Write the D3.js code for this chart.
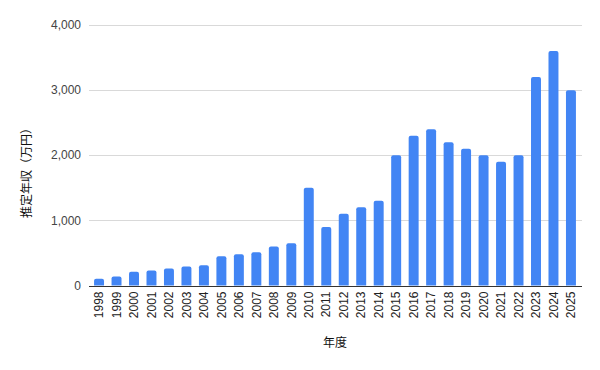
<!DOCTYPE html>
<html>
<head>
<meta charset="utf-8">
<script src="https://cdn.jsdelivr.net/npm/d3@7"></script>
<style>
  body { margin: 0; background: #fff; }
  text { font-family: Arial, "Liberation Sans", "Noto Sans CJK JP", sans-serif; }
</style>
</head>
<body>
<svg id="chart" width="600" height="370"></svg>
<script>
// data
const years = ["1998","1999","2000","2001","2002","2003","2004","2005","2006","2007",
  "2008","2009","2010","2011","2012","2013","2014","2015","2016","2017",
  "2018","2019","2020","2021","2022","2023","2024","2025"];
const salary = [105, 140, 210, 230, 260, 290, 310, 450, 480, 510,
  600, 650, 1500, 900, 1100, 1200, 1300, 2000, 2300, 2400,
  2200, 2100, 2000, 1900, 2000, 3200, 3600, 3000];
const yTicks = [0, 1000, 2000, 3000, 4000];
const yTitle = "推定年収（万円）";
const xTitle = "年度";

const svg = d3.select("#chart");
const plotLeft = 89, plotRight = 581, plotTop = 25, plotBottom = 285.5;

const x = d3.scaleBand()
  .domain(years)
  .range([plotLeft, plotRight])
  .paddingInner(0.43)
  .paddingOuter(0.29);

const y = d3.scaleLinear()
  .domain([0, 4000])
  .range([plotBottom, plotTop]);

// gridlines
svg.append("g")
  .selectAll("line")
  .data(yTicks.filter(d => d > 0))
  .join("line")
  .attr("x1", plotLeft)
  .attr("x2", plotRight + 1)
  .attr("y1", d => Math.round(y(d)) + 0.5)
  .attr("y2", d => Math.round(y(d)) + 0.5)
  .attr("stroke", "#d9d9d9")
  .attr("stroke-width", 1);

// y tick labels
svg.append("g")
  .selectAll("text")
  .data(yTicks)
  .join("text")
  .attr("x", plotLeft - 8)
  .attr("y", d => y(d))
  .attr("dy", "0.35em")
  .attr("text-anchor", "end")
  .attr("font-size", 12)
  .attr("fill", "#444")
  .text(d => d3.format(",")(d));

// bars with slightly rounded tops
const r = 2;
svg.append("g")
  .selectAll("path")
  .data(salary)
  .join("path")
  .attr("fill", "#4285f4")
  .attr("d", (d, i) => {
    const x0 = x(years[i]), w = x.bandwidth();
    const y0 = y(d), y1 = y(0);
    return `M${x0},${y1}V${y0 + r}Q${x0},${y0} ${x0 + r},${y0}` +
      `H${x0 + w - r}Q${x0 + w},${y0} ${x0 + w},${y0 + r}V${y1}Z`;
  });

// baseline
svg.append("line")
  .attr("x1", plotLeft)
  .attr("x2", plotRight + 1)
  .attr("y1", Math.round(y(0)) + 0.5)
  .attr("y2", Math.round(y(0)) + 0.5)
  .attr("stroke", "#333")
  .attr("stroke-width", 1);

// x labels, rotated
svg.append("g")
  .selectAll("text")
  .data(years)
  .join("text")
  .attr("transform", d => `translate(${x(d) + x.bandwidth() / 2},${plotBottom + 6}) rotate(-90)`)
  .attr("dy", "0.35em")
  .attr("text-anchor", "end")
  .attr("font-size", 12)
  .attr("fill", "#222")
  .text(d => d);

// axis titles
svg.append("text")
  .attr("x", 335)
  .attr("y", 343)
  .attr("dy", "0.35em")
  .attr("text-anchor", "middle")
  .attr("font-size", 12)
  .attr("fill", "#111")
  .text(xTitle);

svg.append("text")
  .attr("transform", "translate(27,170) rotate(-90)")
  .attr("dy", "0.35em")
  .attr("text-anchor", "middle")
  .attr("font-size", 12)
  .attr("fill", "#111")
  .text(yTitle);
</script>
</body>
</html>
